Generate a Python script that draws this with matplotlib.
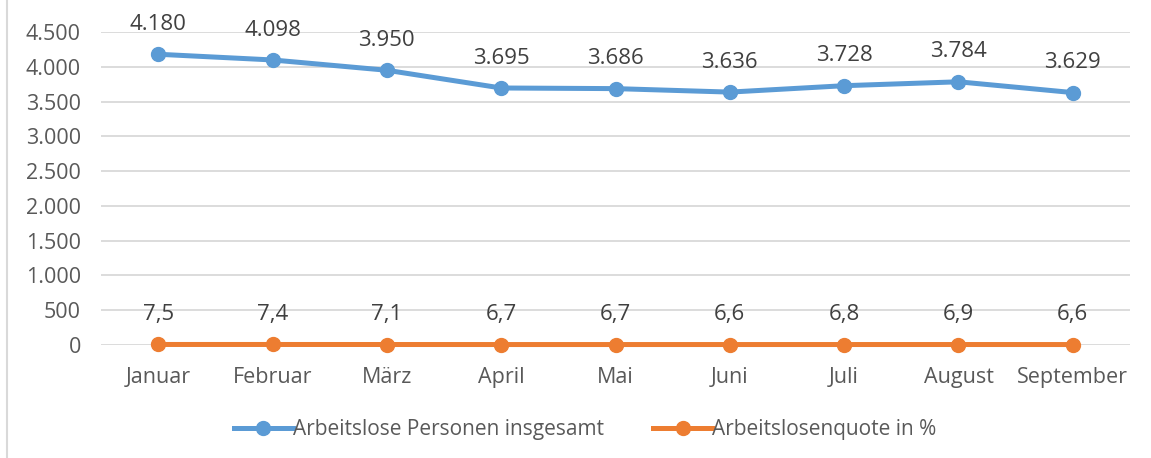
import matplotlib.pyplot as plt
from matplotlib.lines import Line2D

# Daten
monate = ['Januar', 'Februar', 'März', 'April', 'Mai', 'Juni', 'Juli', 'August', 'September']
personen = [4180, 4098, 3950, 3695, 3686, 3636, 3728, 3784, 3629]
quote = [7.5, 7.4, 7.1, 6.7, 6.7, 6.6, 6.8, 6.9, 6.6]

blau = '#5B9BD5'
orange = '#ED7D31'
plt.rcParams['font.family'] = ['Open Sans', 'DejaVu Sans']

fig = plt.figure(figsize=(11.51, 4.58), dpi=100)
ax = fig.add_axes([101 / 1151, 113 / 458, 1029 / 1151, 313 / 458])

x = range(len(monate))
ax.plot(x, personen, color=blau, lw=3.6, marker='o', ms=10, label='Arbeitslose Personen insgesamt',
        zorder=3, clip_on=False)
ax.plot(x, quote, color=orange, lw=3.6, marker='o', ms=10, label='Arbeitslosenquote in %',
        zorder=3, clip_on=False)

for i, v in enumerate(personen):
    ax.annotate(f'{v:,}'.replace(',', '.'), (i, v), xytext=(0, 14), textcoords='offset points',
                ha='center', va='bottom', fontsize=16, color='#404040')
for i, v in enumerate(quote):
    ax.annotate(f'{v:.1f}'.replace('.', ','), (i, v), xytext=(0, 14), textcoords='offset points',
                ha='center', va='bottom', fontsize=16, color='#404040')

ax.set_xlim(-0.5, len(monate) - 0.5)
ax.set_ylim(0, 4500)
ax.set_yticks(range(0, 4501, 500))
ax.set_yticklabels([f'{t:,}'.replace(',', '.') for t in range(0, 4501, 500)])
ax.set_xticks(list(x))
ax.set_xticklabels(monate)
ax.tick_params(axis='both', length=0, labelsize=15.5, colors='#595959')
ax.tick_params(axis='y', pad=14.5)
ax.tick_params(axis='x', pad=16)
ax.grid(axis='y', color='#D9D9D9', lw=1.3)
ax.set_axisbelow(True)
for s in ax.spines.values():
    s.set_visible(False)

fig.legend(loc='center', bbox_to_anchor=(585 / 1151, 1 - 430 / 458), ncol=2, frameon=False,
           fontsize=15, labelcolor='#595959', handlelength=2.85, handletextpad=0.0, columnspacing=2.35)

# linker Rahmen
fig.add_artist(Line2D([7 / 1151, 7 / 1151], [0, 1], color='#D9D9D9', lw=1.5))

fig.savefig('out.png', dpi=100)
